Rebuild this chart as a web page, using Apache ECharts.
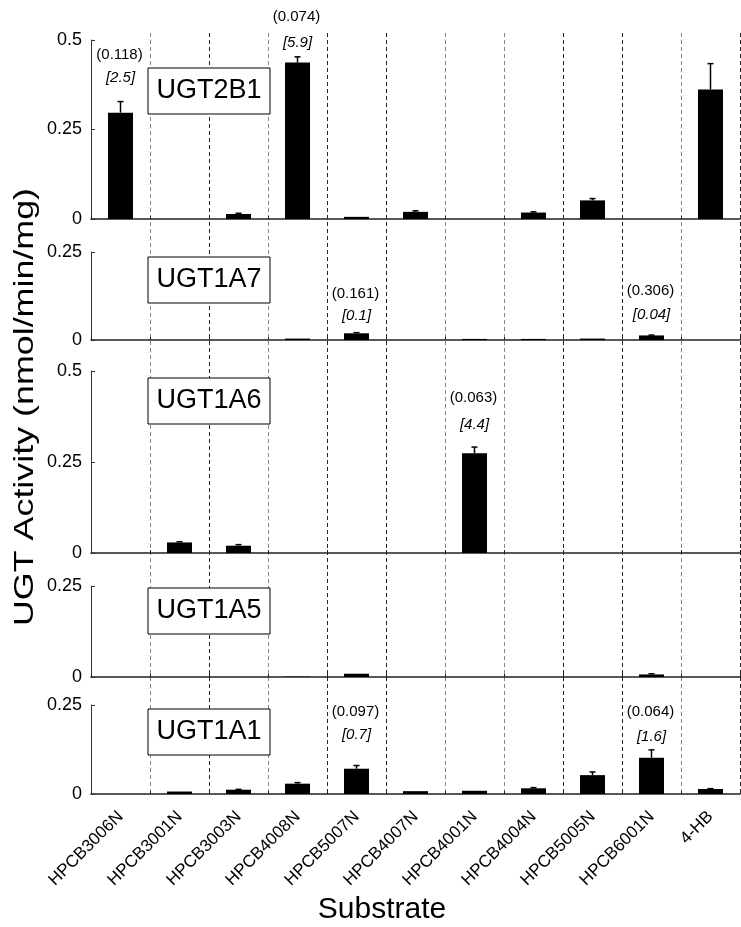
<!DOCTYPE html>
<html>
<head>
<meta charset="utf-8">
<script src="https://cdn.jsdelivr.net/npm/echarts@6/dist/echarts.min.js"></script>
<style>
html,body{margin:0;padding:0;background:#fff;}
#chart{width:741px;height:927px;}
</style>
</head>
<body>
<div id="chart"></div>
<script>
// ---- data ----
const categories = ['HPCB3006N','HPCB3001N','HPCB3003N','HPCB4008N','HPCB5007N','HPCB4007N','HPCB4001N','HPCB4004N','HPCB5005N','HPCB6001N','4-HB'];
const panelNames = ['UGT2B1','UGT1A7','UGT1A6','UGT1A5','UGT1A1'];
const panelMax = [0.5, 0.25, 0.5, 0.25, 0.25];

const ugt2b1    = [0.297, 0, 0.014, 0.437, 0.006, 0.020, 0, 0.018, 0.052, 0, 0.362];
const ugt2b1Err = [0.031, 0, 0.002, 0.016, 0, 0.003, 0, 0.002, 0.005, 0, 0.072];
const ugt1a7    = [0, 0, 0, 0.004, 0.019, 0, 0.003, 0.003, 0.004, 0.013, 0];
const ugt1a7Err = [0, 0, 0, 0, 0.002, 0, 0, 0, 0, 0.001, 0];
const ugt1a6    = [0, 0.029, 0.020, 0, 0, 0, 0.274, 0, 0, 0, 0];
const ugt1a6Err = [0, 0.002, 0.003, 0, 0, 0, 0.017, 0, 0, 0, 0];
const ugt1a5    = [0, 0, 0, 0.001, 0.009, 0, 0, 0, 0, 0.007, 0];
const ugt1a5Err = [0, 0, 0, 0, 0, 0, 0, 0, 0, 0.002, 0];
const ugt1a1    = [0, 0.007, 0.012, 0.029, 0.071, 0.008, 0.009, 0.016, 0.053, 0.102, 0.014];
const ugt1a1Err = [0, 0, 0.001, 0.003, 0.009, 0, 0, 0.002, 0.009, 0.022, 0.001];

const panelValues = [ugt2b1, ugt1a7, ugt1a6, ugt1a5, ugt1a1];
const panelErrors = [ugt2b1Err, ugt1a7Err, ugt1a6Err, ugt1a5Err, ugt1a1Err];

// annotation texts: [panel, category, parenthesised, bracketed]
const annotations = [
  [0, 'HPCB3006N', '(0.118)', '[2.5]'],
  [0, 'HPCB4008N', '(0.074)', '[5.9]'],
  [1, 'HPCB5007N', '(0.161)', '[0.1]'],
  [1, 'HPCB6001N', '(0.306)', '[0.04]'],
  [2, 'HPCB4001N', '(0.063)', '[4.4]'],
  [4, 'HPCB5007N', '(0.097)', '[0.7]'],
  [4, 'HPCB6001N', '(0.064)', '[1.6]']
];

// ---- layout ----
const FONT = "'Liberation Sans', Arial, Helvetica, sans-serif";
const gridLeft = 91, gridRight = 1;
const panelTop = [40, 252, 371, 586, 705];
const panelHeight = [179, 88, 182, 91, 89];
const boxTop = [68, 257, 378, 588, 709];
const annotParenY = [55, 17, 294, 291, 398, 712, 712];
const annotBrackY = [78, 43, 316, 315, 425, 735, 737];

const grids = [], xAxes = [], yAxes = [], series = [];
for (let p = 0; p < 5; p++) {
  grids.push({left: gridLeft, right: gridRight, top: panelTop[p], height: panelHeight[p], containLabel: false});
  xAxes.push({
    type: 'category', gridIndex: p, data: categories, boundaryGap: true,
    axisLine: {show: true, lineStyle: {color: '#222', width: 1.5}},
    axisTick: {show: true, inside: true, length: 3, interval: 0, lineStyle: {color: '#222'}},
    axisLabel: p === 4 ? {show: true, interval: 0, rotate: 45, fontSize: 17, margin: 20, color: '#000', fontFamily: FONT} : {show: false},
    splitLine: {show: false}
  });
  yAxes.push({
    type: 'value', gridIndex: p, min: 0, max: panelMax[p], interval: 0.25,
    axisLine: {show: true, lineStyle: {color: '#333', width: 1}},
    axisTick: {show: true, inside: true, length: 4, lineStyle: {color: '#333'}},
    axisLabel: {show: true, fontSize: 18, margin: 9, color: '#000', fontFamily: FONT},
    splitLine: {show: false}
  });
  series.push({
    type: 'bar', xAxisIndex: p, yAxisIndex: p, barWidth: 25,
    itemStyle: {color: '#000'}, silent: true,
    data: panelValues[p]
  });
  series.push({
    type: 'custom', xAxisIndex: p, yAxisIndex: p, silent: true, z: 5,
    data: panelValues[p].map((v, i) => [i, v, panelErrors[p][i]]),
    renderItem: function (params, api) {
      const err = api.value(2);
      if (!err) return null;
      const b = api.coord([api.value(0), api.value(1)]);
      const t = api.coord([api.value(0), api.value(1) + err]);
      return {type: 'group', children: [
        {type: 'line', shape: {x1: b[0], y1: b[1], x2: t[0], y2: t[1]}, style: {stroke: '#000', lineWidth: 1.5}},
        {type: 'line', shape: {x1: t[0] - 3, y1: t[1], x2: t[0] + 3, y2: t[1]}, style: {stroke: '#000', lineWidth: 1.5}}
      ]};
    }
  });
}
// full-height grid for the dashed category separators
grids.push({left: gridLeft, right: gridRight, top: 33, height: 761});
xAxes.push({
  type: 'category', gridIndex: 5, data: categories, boundaryGap: true,
  axisLine: {show: false}, axisTick: {show: false}, axisLabel: {show: false},
  splitLine: {show: true, interval: 0, lineStyle: {
    type: [4, 3], width: 1,
    color: ['rgba(0,0,0,0)', '#888', '#222', '#888', '#222', '#222', '#888', '#888', '#222', '#222', '#888', '#222']
  }}
});
yAxes.push({type: 'value', gridIndex: 5, show: false, min: 0, max: 1});

const chart = echarts.init(document.getElementById('chart'), null, {renderer: 'canvas'});
chart.setOption({
  animation: false,
  backgroundColor: '#fff',
  textStyle: {fontFamily: FONT},
  grid: grids, xAxis: xAxes, yAxis: yAxes, series: series
});

// ---- text overlays ----
const graphics = [];
const catW = chart.convertToPixel({xAxisIndex: 0}, categories[2]) - chart.convertToPixel({xAxisIndex: 0}, categories[1]);
for (let p = 0; p < 5; p++) {
  const x1 = chart.convertToPixel({xAxisIndex: p}, categories[1]) - catW / 2 - 2;
  const x2 = chart.convertToPixel({xAxisIndex: p}, categories[2]) + catW / 2 + 2;
  graphics.push({type: 'rect', z: 50, shape: {x: x1, y: boxTop[p], width: x2 - x1, height: 46},
    style: {fill: '#fff', stroke: '#000', lineWidth: 1}});
  graphics.push({type: 'text', z: 51, x: (x1 + x2) / 2, y: boxTop[p] + 23,
    style: {text: panelNames[p], font: '27px ' + FONT, fill: '#000', textAlign: 'center', textVerticalAlign: 'middle'}});
}
annotations.forEach((a, k) => {
  const x = chart.convertToPixel({xAxisIndex: a[0]}, a[1]);
  graphics.push({type: 'text', z: 52, x: x - 1, y: annotParenY[k],
    style: {text: a[2], font: '15px ' + FONT, fill: '#000', textAlign: 'center', textVerticalAlign: 'middle'}});
  graphics.push({type: 'text', z: 52, x: x, y: annotBrackY[k],
    style: {text: a[3], font: 'italic 15px ' + FONT, fill: '#000', textAlign: 'center', textVerticalAlign: 'middle'}});
});
graphics.push({type: 'text', x: 25, y: 407, rotation: Math.PI / 2, scaleX: 1.28,
  style: {text: 'UGT Activity (nmol/min/mg)', font: '28px ' + FONT, fill: '#000', textAlign: 'center', textVerticalAlign: 'middle'}});
graphics.push({type: 'text', x: 382, y: 910,
  style: {text: 'Substrate', font: '30px ' + FONT, fill: '#000', textAlign: 'center', textVerticalAlign: 'middle'}});
chart.setOption({graphic: graphics});
</script>
</body>
</html>
